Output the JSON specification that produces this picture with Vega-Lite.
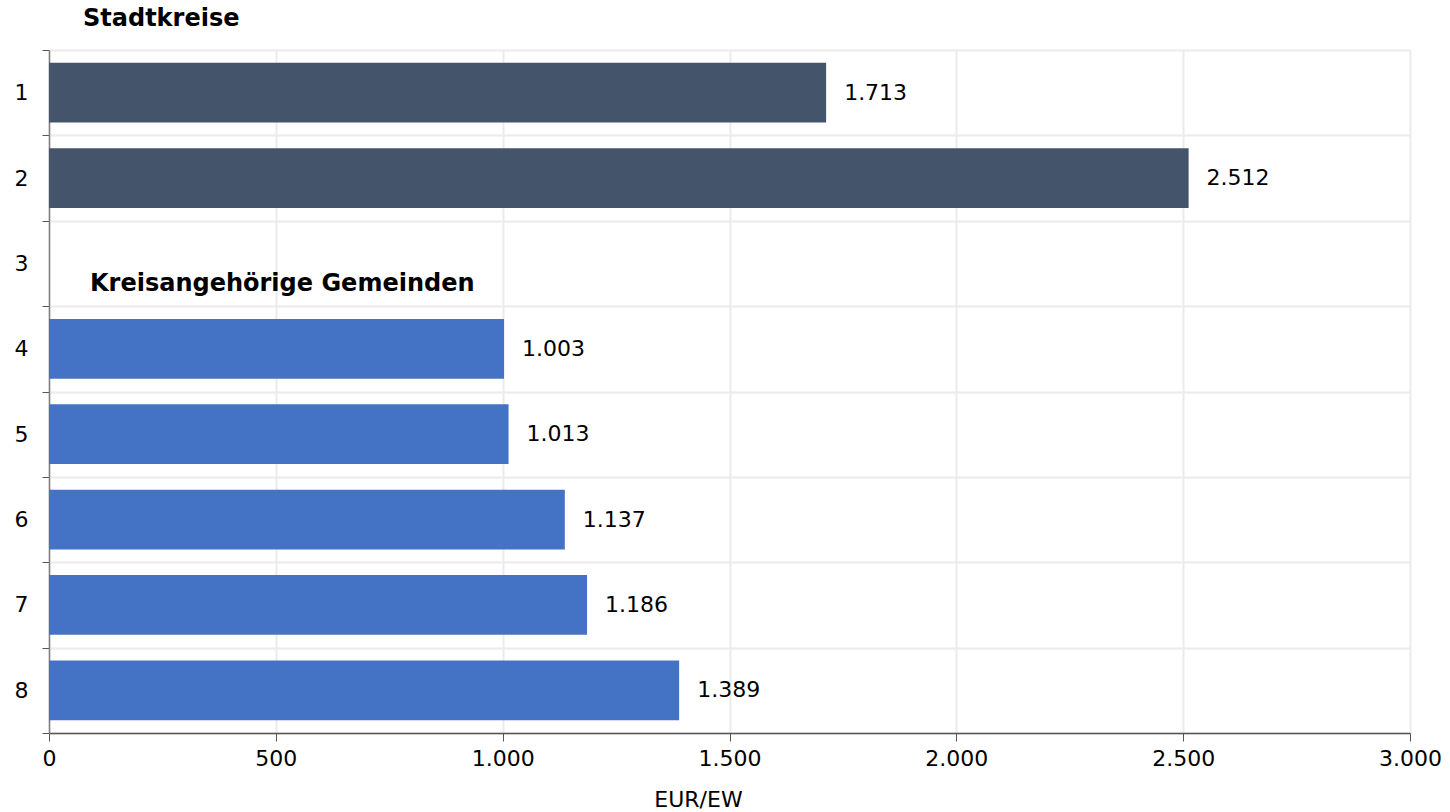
{
  "$schema": "https://vega.github.io/schema/vega-lite/v6.json",
  "autosize": {"type": "none"},
  "padding": {"left": 49, "top": 50, "right": 40, "bottom": 79},
  "width": 1361,
  "height": 683,
  "title": {"text": "Stadtkreise", "anchor": "start", "frame": "group", "dx": 34, "dy": 10, "offset": 18, "fontSize": 24, "fontWeight": "bold", "font": "DejaVu Sans", "color": "#000000"},
  "config": {
    "locale": {"number": {"decimal": ",", "thousands": ".", "grouping": [3], "currency": ["", " €"]}},
    "view": {"stroke": null},
    "font": "DejaVu Sans"
  },
  "data": {"values": [
    {"k": "1", "v": 1713, "g": "Stadtkreise"},
    {"k": "2", "v": 2512, "g": "Stadtkreise"},
    {"k": "3", "header": "Kreisangehörige Gemeinden"},
    {"k": "4", "v": 1003, "g": "Kreisangehörige Gemeinden"},
    {"k": "5", "v": 1013, "g": "Kreisangehörige Gemeinden"},
    {"k": "6", "v": 1137, "g": "Kreisangehörige Gemeinden"},
    {"k": "7", "v": 1186, "g": "Kreisangehörige Gemeinden"},
    {"k": "8", "v": 1389, "g": "Kreisangehörige Gemeinden"}
  ]},
  "encoding": {
    "y": {
      "field": "k", "type": "nominal",
      "scale": {"domain": ["1","2","3","4","5","6","7","8"], "paddingInner": 0, "paddingOuter": 0},
      "axis": {
        "title": null, "tickBand": "extent", "grid": true, "gridColor": "#ebebeb", "gridWidth": 2,
        "domainColor": "#808080", "domainWidth": 1.5, "tickColor": "#555555", "tickSize": 7,
        "labelFontSize": 22, "labelColor": "#000000", "labelPadding": 14, "labelFont": "DejaVu Sans"
      }
    }
  },
  "layer": [
    {
      "transform": [{"filter": "isValid(datum.v)"}],
      "mark": {"type": "bar", "height": {"band": 0.7}},
      "encoding": {
        "x": {
          "field": "v", "type": "quantitative",
          "scale": {"domain": [0, 3000], "nice": false},
          "axis": {
            "title": "EUR/EW", "values": [0, 500, 1000, 1500, 2000, 2500, 3000], "format": ",d",
            "grid": true, "gridColor": "#ebebeb", "gridWidth": 2, "labelFlush": false, "labelBound": false,
            "domainColor": "#555555", "domainWidth": 1.5, "tickColor": "#555555", "tickSize": 8,
            "labelFontSize": 22, "labelColor": "#000000", "labelPadding": 7, "labelFont": "DejaVu Sans",
            "titleFontSize": 22, "titleFontWeight": "normal", "titleColor": "#000000", "titleFont": "DejaVu Sans",
            "titleX": 649, "titleY": 78, "titleBaseline": "bottom"
          }
        },
        "color": {
          "field": "g", "type": "nominal",
          "scale": {"domain": ["Stadtkreise", "Kreisangehörige Gemeinden"], "range": ["#44546A", "#4472C4"]},
          "legend": null
        }
      }
    },
    {
      "transform": [{"filter": "isValid(datum.v)"}],
      "mark": {"type": "text", "align": "left", "baseline": "middle", "dx": 18, "fontSize": 22, "color": "#000000", "font": "DejaVu Sans"},
      "encoding": {
        "x": {"field": "v", "type": "quantitative"},
        "text": {"field": "v", "type": "quantitative", "format": ",d"}
      }
    },
    {
      "transform": [{"filter": "isValid(datum.header)"}],
      "mark": {"type": "text", "align": "left", "baseline": "middle", "dx": 41, "dy": 21, "fontSize": 24, "fontWeight": "bold", "color": "#000000", "font": "DejaVu Sans"},
      "encoding": {
        "x": {"datum": 0, "type": "quantitative"},
        "text": {"field": "header"}
      }
    }
  ]
}
